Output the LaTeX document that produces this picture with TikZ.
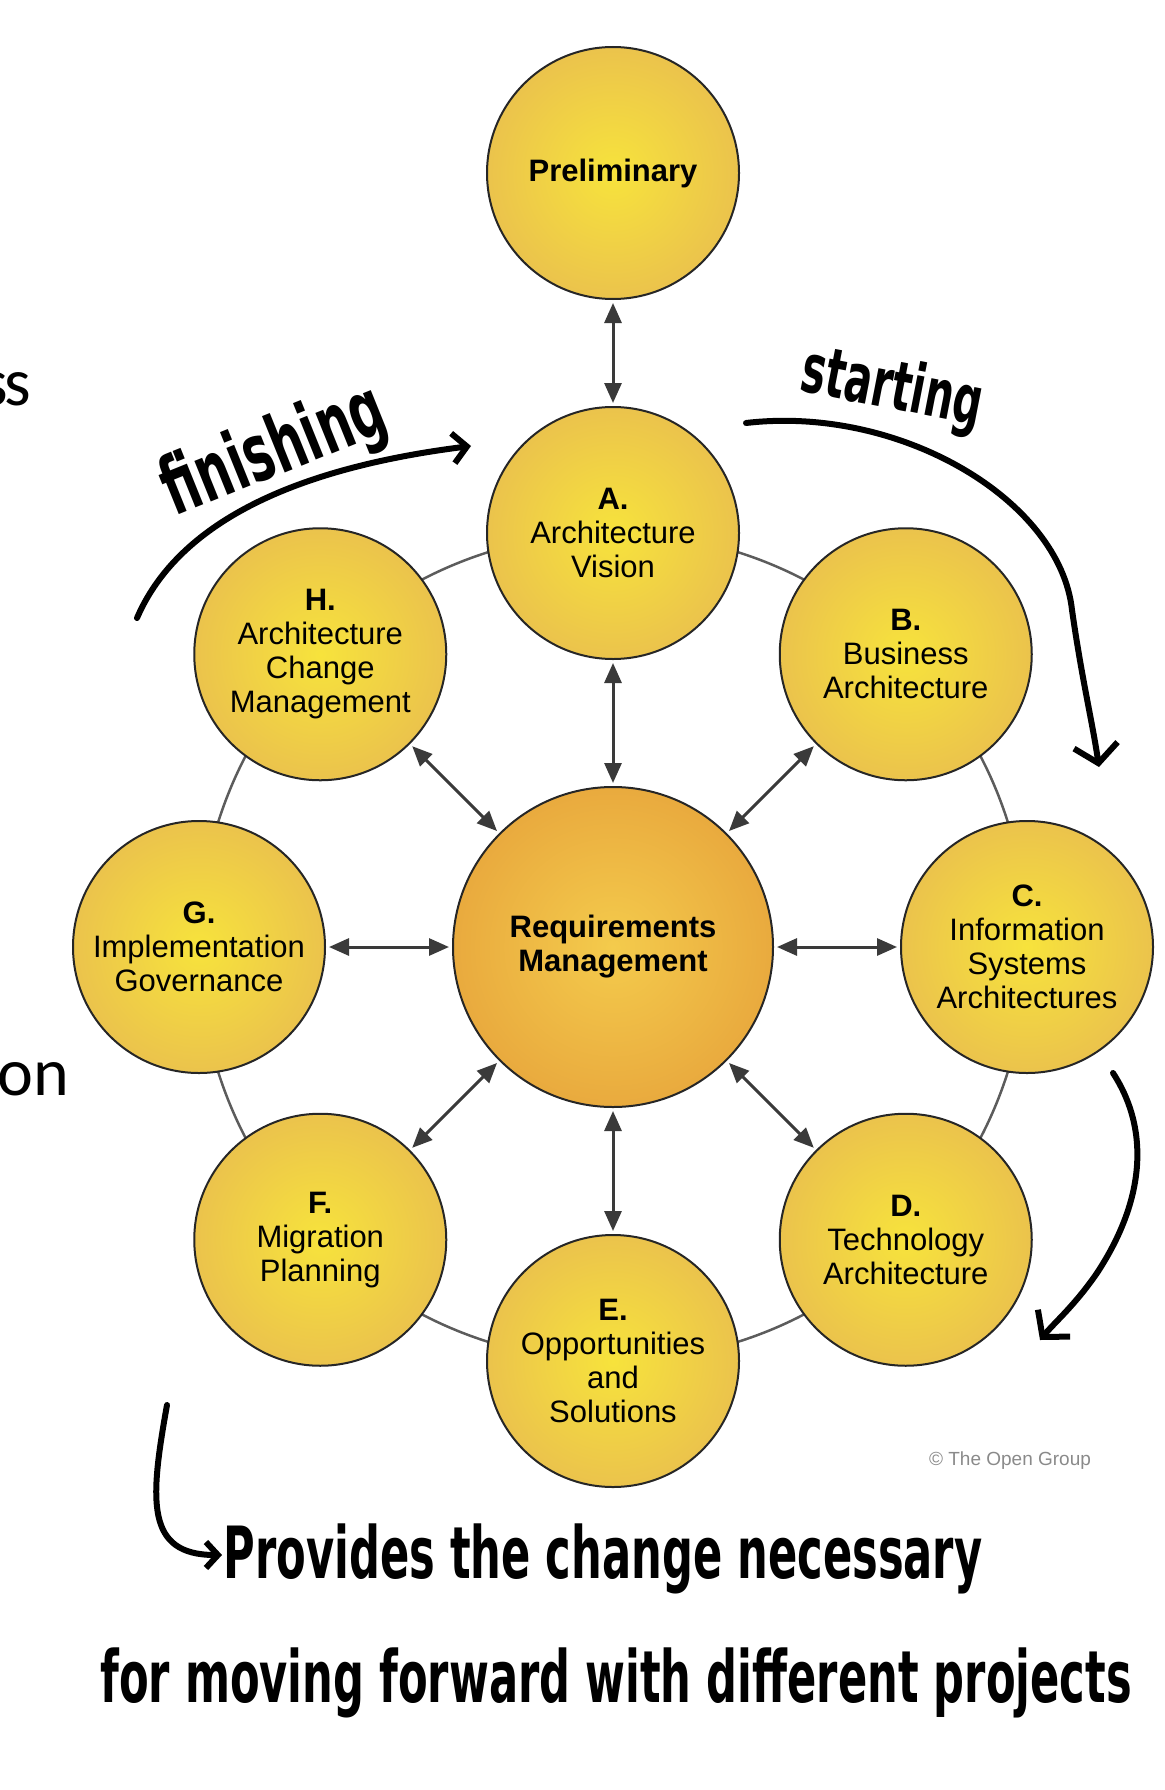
\documentclass[tikz,border=0pt]{standalone}
\usepackage{fontspec}
\setmainfont{Liberation Sans}
\newfontfamily\slidefont{Carlito}
\newfontfamily\handfont{DejaVu Sans}
\usetikzlibrary{calc, arrows.meta}

\definecolor{phaseinner}{HTML}{F7E33C}
\definecolor{phaseouter}{HTML}{EBC34C}
\definecolor{reqinner}{HTML}{F4CB4C}
\definecolor{reqouter}{HTML}{E9AA3E}
\definecolor{linkgray}{HTML}{3A3A3A}
\definecolor{ringgray}{HTML}{5C5C5C}
\definecolor{creditgray}{HTML}{8A8A8A}

\newcommand\scrawl[1]{\scalebox{0.6}[1]{#1}}

\tikzset{
	phase/.style = {circle, draw = black!85, line width = 2pt, minimum size = 252pt, inner sep = 0pt,
		inner color = phaseinner, outer color = phaseouter, align = center,
		font = \fontsize{31}{34}\selectfont},
	reqphase/.style = {phase, minimum size = 320pt, inner color = reqinner, outer color = reqouter,
		font = \fontsize{31}{34}\selectfont\bfseries},
	ring/.style = {draw = ringgray, line width = 2.5pt},
	link/.style = {draw = linkgray, line width = 3pt, >={Triangle[length = 20pt, width = 17pt]}, <->,
		shorten < = 3pt, shorten > = 3pt},
	ink/.style = {draw = black, line width = 6pt, line cap = round, line join = round},
	scrawlnote/.style = {inner sep = 0pt, text = black, font = \handfont\bfseries\fontsize{72}{80}\selectfont},
	slidetext/.style = {inner sep = 0pt, text = black, font = \slidefont\fontsize{68}{80}\selectfont}
}

\begin{document}
\begin{tikzpicture}[x = 1pt, y = 1pt]
			\def\ringR{414};
			\useasboundingbox (0,0) rectangle (1164,-1790);
			
			\coordinate (centre) at (613,-947);
			\draw[ring] (centre) circle [radius = \ringR];
			
			\node[phase] (prelim) at (613,-173) {\textbf{Preliminary}};
			\node[reqphase] (reqmgmt) at (centre) {Requirements\\Management};
			\node[phase] (phaseA) at ($ (centre) + (90:\ringR) $) {\textbf{A.}\\Architecture\\Vision};
			\node[phase] (phaseB) at ($ (centre) + (45:\ringR) $) {\textbf{B.}\\Business\\Architecture};
			\node[phase] (phaseC) at ($ (centre) + (0:\ringR) $) {\textbf{C.}\\Information\\Systems\\Architectures};
			\node[phase] (phaseD) at ($ (centre) + (-45:\ringR) $) {\textbf{D.}\\Technology\\Architecture};
			\node[phase] (phaseE) at ($ (centre) + (-90:\ringR) $) {\textbf{E.}\\Opportunities\\and\\Solutions};
			\node[phase] (phaseF) at ($ (centre) + (-135:\ringR) $) {\textbf{F.}\\Migration\\Planning};
			\node[phase] (phaseG) at ($ (centre) + (180:\ringR) $) {\textbf{G.}\\Implementation\\Governance};
			\node[phase] (phaseH) at ($ (centre) + (135:\ringR) $) {\textbf{H.}\\Architecture\\Change\\Management};
			
			\begin{scope}[link]
				\draw (prelim) -- (phaseA);
				\draw (reqmgmt) -- (phaseA);
				\draw (reqmgmt) -- (phaseB);
				\draw (reqmgmt) -- (phaseC);
				\draw (reqmgmt) -- (phaseD);
				\draw (reqmgmt) -- (phaseE);
				\draw (reqmgmt) -- (phaseF);
				\draw (reqmgmt) -- (phaseG);
				\draw (reqmgmt) -- (phaseH);
			\end{scope}
			
			\node[font = \fontsize{19}{22}\selectfont, text = creditgray] (credit) at (1010,-1461) {\textcopyright{} The Open Group};
			
			\node[slidetext, anchor = base east] (slidess) at (31,-405) {s\kern-4pt s};
			\node[slidetext, anchor = base west] (slideon) at (-3,-1095) {on};
			
			\node[scrawlnote, font = \handfont\bfseries\fontsize{80}{90}\selectfont, rotate = 22] (finishing) at (275,-453) {\scrawl{finishing}};
			\node[scrawlnote, font = \handfont\bfseries\fontsize{68}{76}\selectfont, rotate = -11] (starting) at (892,-390) {\scrawl{starting}};
			\node[scrawlnote, anchor = base] (provides) at (603,-1578) {\scrawl{Provides the change necessary}};
			\node[scrawlnote, anchor = base] (moving) at (616,-1702) {\scrawl{for moving forward with different projects}};
			
			\coordinate (finishTail) at (137,-618);
			\coordinate (finishTip) at (471,-446);
			\coordinate (startTail) at (746,-423);
			\coordinate (startTip) at (1099,-767);
			\coordinate (nextTail) at (1113,-1073);
			\coordinate (nextTip) at (1040,-1340);
			\coordinate (noteTail) at (167,-1405);
			\coordinate (noteTip) at (222,-1555);
			
			\begin{scope}[ink]
				\draw[-{Straight Barb[length = 14pt, width = 30pt]}] (finishTail) .. controls (175,-530) and (280,-470) .. (finishTip);
				\draw[-{Straight Barb[length = 18pt, width = 44pt]}] (startTail) .. controls (900,-405) and (1060,-500) .. (1072,-610) .. controls (1082,-680) and (1092,-720) .. (startTip);
				\draw[-{Straight Barb[length = 18pt, width = 42pt]}] (nextTail) .. controls (1150,-1130) and (1145,-1200) .. (1097,-1273) .. controls (1075,-1305) and (1055,-1322) .. (nextTip);
				\draw[-{Straight Barb[length = 12pt, width = 26pt]}] (noteTail) .. controls (150,-1500) and (145,-1555) .. (noteTip);
			\end{scope}
		\end{tikzpicture}
\end{document}
